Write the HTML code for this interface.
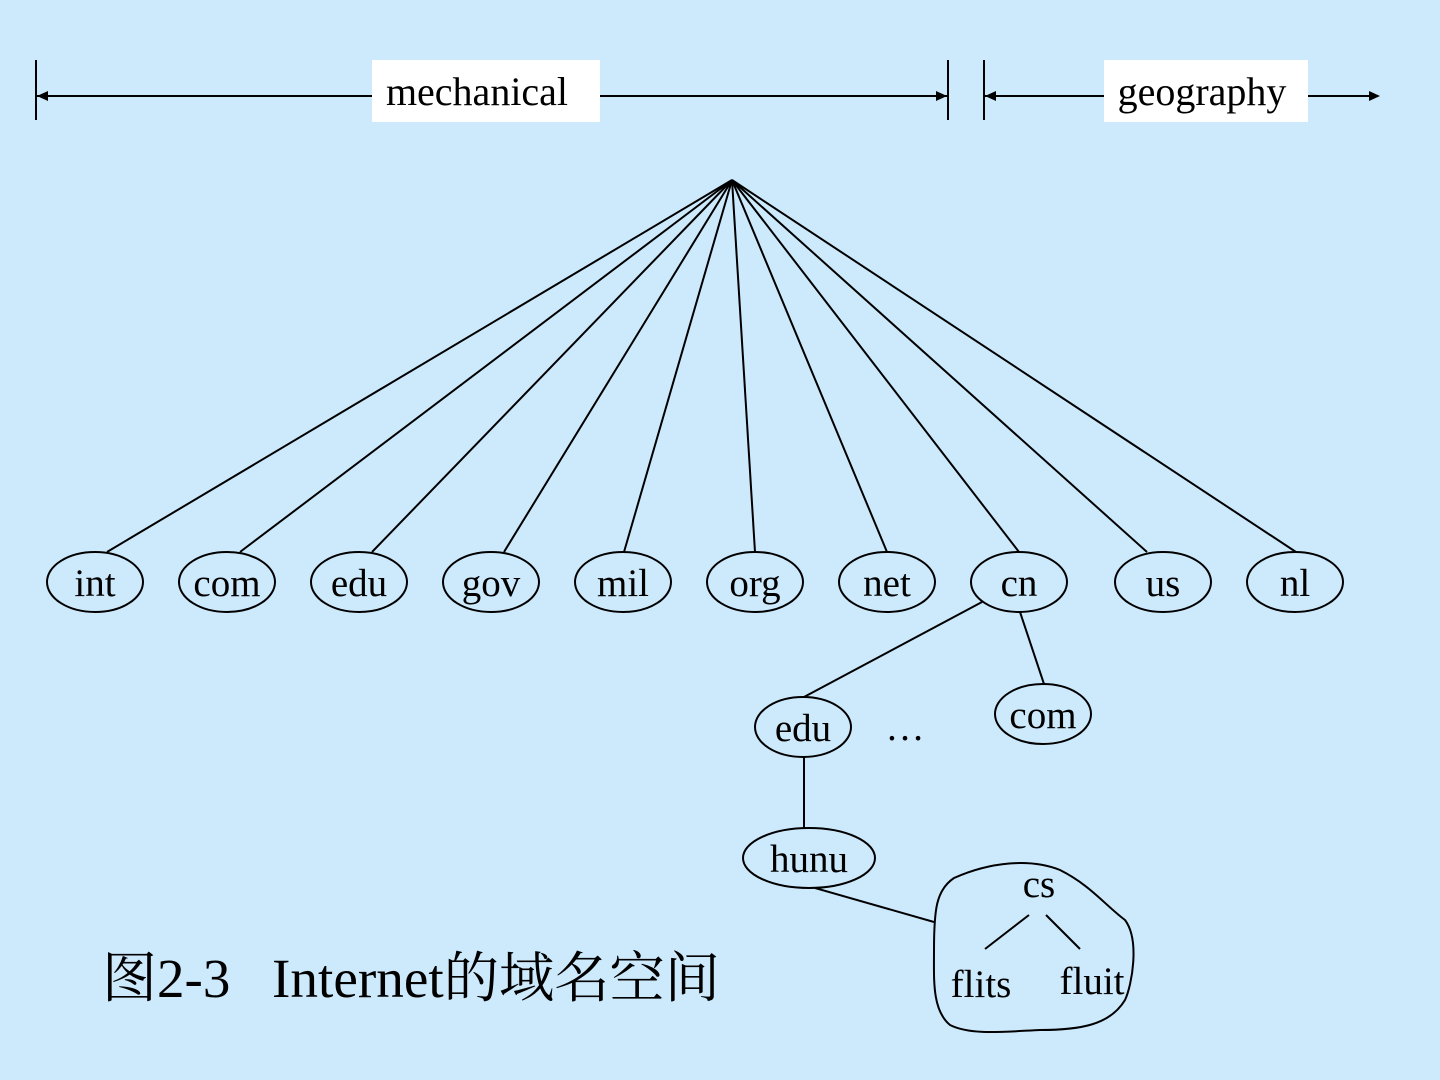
<!DOCTYPE html>
<html><head><style>
html,body{margin:0;padding:0;background:#cdeafd;}
svg{display:block}
text{font-family:"Liberation Serif","Noto Serif CJK SC",serif;fill:#000}
</style></head><body>
<svg width="1440" height="1080" viewBox="0 0 1440 1080">
<rect width="1440" height="1080" fill="#cdeafd"/>
<g stroke="#000" stroke-width="2" fill="none">
<line x1="36" y1="60" x2="36" y2="120"/>
<line x1="948" y1="60" x2="948" y2="120"/>
<line x1="984" y1="60" x2="984" y2="120"/>
<line x1="36" y1="96" x2="948" y2="96"/>
<line x1="984" y1="96" x2="1378" y2="96"/>
</g>
<g fill="#000">
<polygon points="37,96 48,91 48,101"/>
<polygon points="947,96 936,91 936,101"/>
<polygon points="985,96 996,91 996,101"/>
<polygon points="1380,96 1369,91 1369,101"/>
</g>
<rect x="372" y="60" width="228" height="62" fill="#fff"/>
<rect x="1104" y="60" width="204" height="62" fill="#fff"/>
<text x="477" y="105" font-size="40" text-anchor="middle">mechanical</text>
<text x="1202" y="105" font-size="40" text-anchor="middle">geography</text>
<g stroke="#000" stroke-width="2" fill="none">
<line x1="732" y1="180" x2="107" y2="552"/>
<line x1="732" y1="180" x2="240" y2="552"/>
<line x1="732" y1="180" x2="372" y2="552"/>
<line x1="732" y1="180" x2="504" y2="552"/>
<line x1="732" y1="180" x2="624" y2="552"/>
<line x1="732" y1="180" x2="755" y2="552"/>
<line x1="732" y1="180" x2="887" y2="552"/>
<line x1="732" y1="180" x2="1019" y2="552"/>
<line x1="732" y1="180" x2="1147" y2="552"/>
<line x1="732" y1="180" x2="1296" y2="552"/>
<ellipse cx="95" cy="582" rx="48" ry="30"/>
<ellipse cx="227" cy="582" rx="48" ry="30"/>
<ellipse cx="359" cy="582" rx="48" ry="30"/>
<ellipse cx="491" cy="582" rx="48" ry="30"/>
<ellipse cx="623" cy="582" rx="48" ry="30"/>
<ellipse cx="755" cy="582" rx="48" ry="30"/>
<ellipse cx="887" cy="582" rx="48" ry="30"/>
<ellipse cx="1019" cy="582" rx="48" ry="30"/>
<ellipse cx="1163" cy="582" rx="48" ry="30"/>
<ellipse cx="1295" cy="582" rx="48" ry="30"/>
<line x1="982" y1="602" x2="804" y2="697"/>
<line x1="1020" y1="612" x2="1044" y2="684"/>
<ellipse cx="803" cy="727" rx="48" ry="30"/>
<ellipse cx="1043" cy="714" rx="48" ry="30"/>
<line x1="804" y1="757" x2="804" y2="828"/>
<ellipse cx="809" cy="858" rx="66" ry="30"/>
<line x1="815" y1="888" x2="934" y2="922"/>
<path d="M954,878 C990,862 1030,858 1060,870 C1090,885 1105,905 1125,920 C1140,940 1132,985 1125,1000 C1110,1025 1080,1030 1040,1030 C1000,1032 970,1035 950,1025 C932,1010 934,980 934,950 C934,910 936,890 954,878 Z"/>
<line x1="1029" y1="915" x2="985" y2="949"/>
<line x1="1046" y1="915" x2="1080" y2="949"/>
</g>
<g font-size="39" text-anchor="middle">
<text x="95" y="596">int</text>
<text x="227" y="596">com</text>
<text x="359" y="596">edu</text>
<text x="491" y="596">gov</text>
<text x="623" y="596">mil</text>
<text x="755" y="596">org</text>
<text x="887" y="596">net</text>
<text x="1019" y="596">cn</text>
<text x="1163" y="596">us</text>
<text x="1295" y="596">nl</text>
<text x="803" y="741">edu</text>
<text x="1043" y="728">com</text>
<text x="905" y="740">…</text>
<text x="809" y="872">hunu</text>
<text x="1039" y="897">cs</text>
<text x="981" y="997">flits</text>
<text x="1092" y="994">fluit</text>
</g>
<text x="102" y="997" font-size="55">图2-3</text>
<text x="272" y="997" font-size="55" textLength="448" lengthAdjust="spacingAndGlyphs">Internet的域名空间</text>
</svg>
</body></html>
